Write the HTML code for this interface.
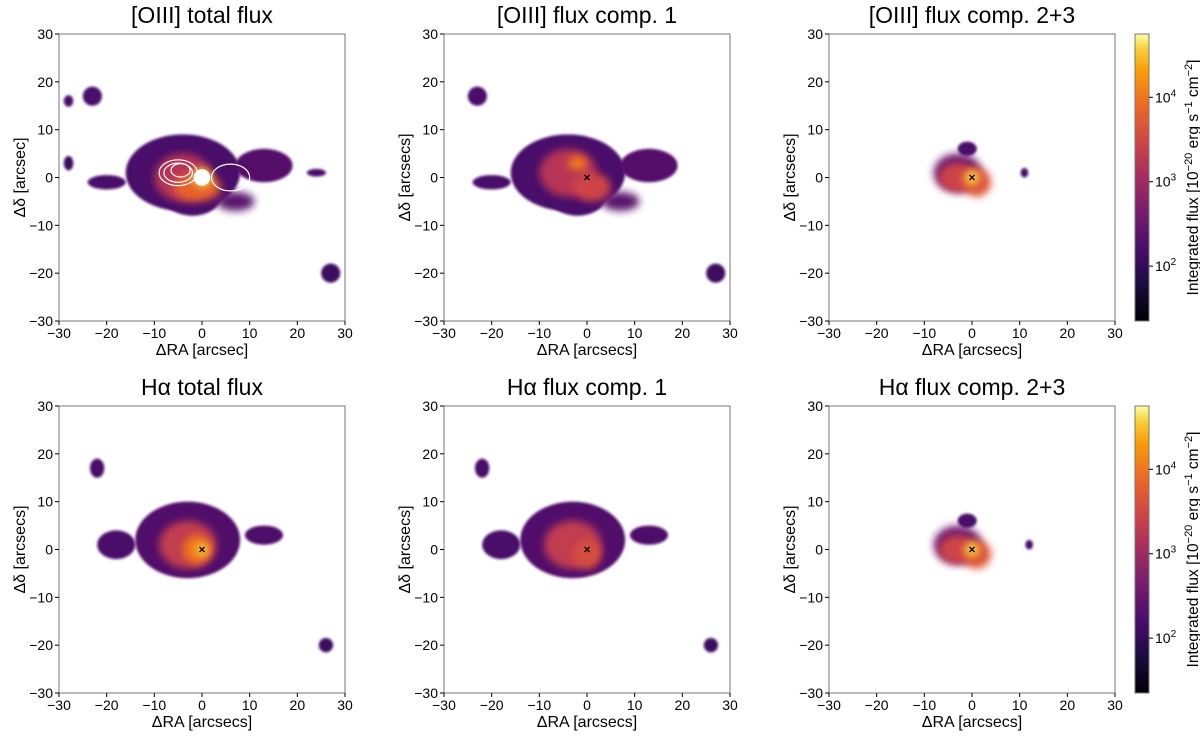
<!DOCTYPE html>
<html><head><meta charset="utf-8"><style>
body{margin:0;background:#fff;}
svg text{font-family:"Liberation Sans","DejaVu Sans",sans-serif;fill:#000;}
</style></head><body>
<svg id="fig" xmlns="http://www.w3.org/2000/svg" width="1200" height="731" viewBox="0 0 1200 731">
<defs>
<filter id="bl" x="-50%" y="-50%" width="200%" height="200%"><feGaussianBlur stdDeviation="4"/></filter>
<filter id="bl2" x="-50%" y="-50%" width="200%" height="200%"><feGaussianBlur stdDeviation="1.2"/></filter>
<linearGradient id="inferno" x1="0" y1="1" x2="0" y2="0">
<stop offset="0" stop-color="#000004"/><stop offset="0.13" stop-color="#1b0c41"/><stop offset="0.25" stop-color="#4a0c6b"/>
<stop offset="0.38" stop-color="#781c6d"/><stop offset="0.5" stop-color="#a52c60"/><stop offset="0.62" stop-color="#cf4446"/>
<stop offset="0.75" stop-color="#ed6925"/><stop offset="0.87" stop-color="#fb9b06"/><stop offset="0.95" stop-color="#f7d13d"/><stop offset="1" stop-color="#fcffa4"/>
</linearGradient>
</defs>
</svg>
<script>
const ticks=[-30,-20,-10,0,10,20,30];
const titles=["[OIII] total flux","[OIII] flux comp. 1","[OIII] flux comp. 2+3","Hα total flux","Hα flux comp. 1","Hα flux comp. 2+3"];
const xlabels=["ΔRA [arcsec]","ΔRA [arcsecs]","ΔRA [arcsecs]","ΔRA [arcsecs]","ΔRA [arcsecs]","ΔRA [arcsecs]"];
const ylabels=["Δδ [arcsec]","Δδ [arcsecs]","Δδ [arcsecs]","Δδ [arcsecs]","Δδ [arcsecs]","Δδ [arcsecs]"];
// emission blobs: [x, y, rx, ry, level 0..1] in arcsec
const blobsTotal=[[-4,1,12,8,0.25],[-2,-4,6,4,0.25],[-20,-1,4,1.5,0.25],[-23,17,2,2,0.25],[-28,16,1,1.2,0.25],[13,2.5,6,3.5,0.28],[7,-5,4,2,0.3],[24,1,2,0.8,0.25],[-28,3,1,1.5,0.22],[27,-20,2,2,0.22],[-4,0,6,5,0.55],[-1,-2,5,3,0.72],[0,0,2,2,0.95]];
const blobsComp1=[[-4,1,12,8,0.25],[-2,-4,6,4,0.25],[-20,-1,4,1.5,0.25],[-23,17,2,2,0.25],[13,2.5,6,3.5,0.28],[7,-5,4,2,0.3],[27,-20,2,2,0.22],[-4,1,6,5,0.55],[1,-2,4,3,0.62],[-2,3,2,1.5,0.78]];
const blobsComp23=[[-3,1,5,4,0.35],[-3,0,4,3,0.62],[1,-1,3,3,0.68],[0,0,1.5,1.5,0.95],[-1,6,2,1.5,0.25],[11,1,0.8,1,0.25]];
const blobsHaTotal=[[-3,2,11,8,0.27],[-18,1,4,3,0.25],[-22,17,1.5,2,0.25],[13,3,4,2,0.26],[-3,1,6,5,0.58],[-1,0,3,3,0.78],[0,0,1.2,1.2,0.95],[26,-20,1.5,1.5,0.22]];
const blobsHaComp1=[[-3,2,11,8,0.27],[-18,1,4,3,0.25],[-22,17,1.5,2,0.25],[13,3,4,2,0.26],[-3,1,6,5,0.58],[0,-1,3,3,0.65],[26,-20,1.5,1.5,0.22]];
const blobsHaComp23=[[-3,1,5,4,0.35],[-3,0,4,3,0.62],[1,-1,3,3,0.68],[0,0,1.5,1.5,0.95],[-1,6,2,1.5,0.25],[12,1,0.8,1,0.25]];
const panelBlobs=[blobsTotal,blobsComp1,blobsComp23,blobsHaTotal,blobsHaComp1,blobsHaComp23];
const cbTicks=[["10",2],["10",3],["10",4]];
const cbRangeLog=[1.35,4.75];
const cols=[59,444,829], rows=[34,406], W=286, H=287;
const NS="http://www.w3.org/2000/svg";
const svg=document.getElementById('fig');
function mk(t,a,p){const e=document.createElementNS(NS,t);for(const k in a)e.setAttribute(k,a[k]);(p||svg).appendChild(e);return e;}
function inferno(v){const s=[[0,[0,0,4]],[0.13,[27,12,65]],[0.25,[74,12,107]],[0.38,[120,28,109]],[0.5,[165,44,96]],[0.62,[207,68,70]],[0.75,[237,105,37]],[0.87,[251,155,6]],[0.95,[247,209,61]],[1,[252,255,164]]];
for(let i=1;i<s.length;i++){if(v<=s[i][0]){const f=(v-s[i-1][0])/(s[i][0]-s[i-1][0]);const c=s[i-1][1].map((q,j)=>Math.round(q+f*(s[i][1][j]-q)));return `rgb(${c})`;}}return 'rgb(252,255,164)';}
for(let p=0;p<6;p++){
  const x0=cols[p%3], y0=rows[Math.floor(p/3)];
  const sx=v=>x0+(v+30)/60*W, sy=v=>y0+(30-v)/60*H;
  const g=mk('g',{});
  
  
  const clip=mk('clipPath',{id:'c'+p},svg.querySelector('defs'));mk('rect',{x:x0,y:y0,width:W,height:H},clip);
  const img=mk('g',{'clip-path':`url(#c${p})`},g);
  
  
  panelBlobs[p].forEach((b,i)=>{
    const e=mk('ellipse',{cx:sx(b[0]),cy:sy(b[1]),rx:b[2]/60*W,ry:b[3]/60*H,fill:inferno(b[4]),filter:b[4]<0.3?'url(#bl2)':'url(#bl)'},img);
    
    
  });
  if(p===0){
    [[-5,1,4,2.7],[-5,1,3,2],[-4.5,1.5,2,1.4],[6,0,4,2.8],[0,0,1.6,1.6]].forEach(c=>{
      const e=mk('ellipse',{cx:sx(c[0]),cy:sy(c[1]),rx:c[2]/60*W,ry:c[3]/60*H,fill:c[2]<2?'#fff':'none',stroke:'#fff','stroke-width':1.2},img);
      
      
    });
  } else {
    const t=mk('text',{x:sx(0),y:sy(0)+4,'text-anchor':'middle','font-size':12,'font-weight':'bold'},g);t.textContent='×';
    
    
  }
  const fr=mk('rect',{x:x0,y:y0,width:W,height:H,fill:'none',stroke:'#777','stroke-width':1},g);
  
  
  ticks.forEach(t=>{
    mk('line',{x1:sx(t),x2:sx(t),y1:y0+H,y2:y0+H+4,stroke:'#000'},g);
    mk('line',{x1:x0-4,x2:x0,y1:sy(t),y2:sy(t),stroke:'#000'},g);
    const a=mk('text',{x:sx(t),y:y0+H+17,'text-anchor':'middle','font-size':14},g);a.textContent=String(t).replace('-','−');
    
    
    const b=mk('text',{x:x0-6,y:sy(t)+5,'text-anchor':'end','font-size':14},g);b.textContent=String(t).replace('-','−');
    
    
  });
  const xl=mk('text',{x:x0+W/2,y:y0+H+34,'text-anchor':'middle','font-size':16},g);xl.textContent=xlabels[p];
  
  
  const yl=mk('text',{x:0,y:0,'text-anchor':'middle','font-size':16,transform:`translate(${x0-34},${y0+H/2}) rotate(-90)`},g);yl.textContent=ylabels[p];
  
  
  const ti=mk('text',{x:x0+W/2,y:y0-11,'text-anchor':'middle','font-size':23},g);ti.textContent=titles[p];
  
  
}
rows.forEach((y0,r)=>{
  const x=1135,w=14;
  const cb=mk('g',{});
  
  
  mk('rect',{x:x,y:y0,width:w,height:H,fill:'url(#inferno)',stroke:'#777'},cb);
  const cy=l=>y0+H-(l-cbRangeLog[0])/(cbRangeLog[1]-cbRangeLog[0])*H;
  cbTicks.forEach(t=>{
    mk('line',{x1:x+w,x2:x+w+4,y1:cy(t[1]),y2:cy(t[1]),stroke:'#000'},cb);
    const tx=mk('text',{x:x+w+6,y:cy(t[1])+5,'font-size':14},cb);
    tx.innerHTML=`10<tspan dy="-6" font-size="10">${t[1]}</tspan>`;
    
    
  });
  const lb=mk('text',{x:0,y:0,'text-anchor':'middle','font-size':15.5,transform:`translate(${x+w+49},${y0+H/2}) rotate(-90)`},cb);
  lb.innerHTML='Integrated flux [10<tspan dy="-6" font-size="11">−20</tspan><tspan dy="6"> erg s</tspan><tspan dy="-6" font-size="11">−1</tspan><tspan dy="6"> cm</tspan><tspan dy="-6" font-size="11">−2</tspan><tspan dy="6">]</tspan>';
  
  
});
</script>
</body></html>
